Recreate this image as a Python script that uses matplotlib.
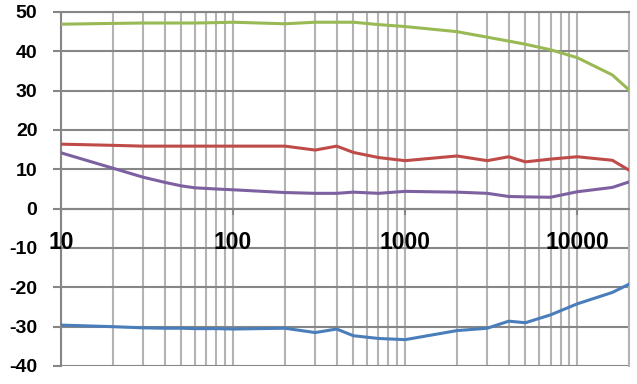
import matplotlib
matplotlib.use('Agg')
import matplotlib.pyplot as plt
import numpy as np
from matplotlib.ticker import LogLocator, FixedLocator, NullFormatter

plt.rcParams['font.family'] = 'Liberation Sans'
plt.rcParams['font.weight'] = 'bold'
plt.rcParams['axes.unicode_minus'] = False

# frequencies (log x) and the four series
freq = [10, 20, 30, 40, 50, 60, 80, 100, 200, 300, 400, 500, 700,
        1000, 2000, 3000, 4000, 5000, 7000, 10000, 16000, 20000]
green = [46.9, 47.1, 47.2, 47.2, 47.2, 47.2, 47.3, 47.4, 47.0, 47.4, 47.4, 47.4, 46.8,
         46.3, 45.0, 43.6, 42.6, 41.8, 40.4, 38.4, 34.0, 30.2]
red = [16.4, 16.1, 15.9, 15.9, 15.9, 15.9, 15.9, 15.9, 15.9, 14.9, 15.9, 14.3, 13.0,
       12.2, 13.4, 12.2, 13.2, 11.9, 12.6, 13.2, 12.3, 9.8]
purple = [14.2, 10.3, 8.0, 6.7, 5.8, 5.3, 5.0, 4.8, 4.1, 3.9, 3.9, 4.2, 3.9,
          4.4, 4.2, 3.9, 3.1, 3.0, 2.9, 4.3, 5.4, 6.8]
blue = [-29.6, -30.0, -30.3, -30.4, -30.4, -30.5, -30.5, -30.6, -30.4, -31.5, -30.6, -32.3, -33.0,
        -33.3, -31.0, -30.4, -28.6, -29.0, -27.0, -24.2, -21.3, -19.2]

xticks = [10, 100, 1000, 10000]
yticks = [-40, -30, -20, -10, 0, 10, 20, 30, 40, 50]

darkgrey = '#868686'
lightgrey = '#b3b3b3'

fig = plt.figure(figsize=(6.37, 3.84), dpi=100)
ax = fig.add_axes([61 / 637, 18 / 384, 568 / 637, 354 / 384])

ax.plot(freq, green, color='#98B954', lw=2.2, zorder=5)
ax.plot(freq, red, color='#BE4B48', lw=2.2, zorder=5)
ax.plot(freq, purple, color='#7D60A0', lw=2.2, zorder=5)
ax.plot(freq, blue, color='#4A7EBB', lw=2.2, zorder=5)

ax.set_xscale('log')
ax.set_xlim(10, 20000)
ax.set_ylim(-40, 50)

ax.xaxis.set_major_locator(FixedLocator(xticks))
ax.xaxis.set_minor_locator(LogLocator(base=10, subs=np.arange(2, 10), numticks=20))
ax.xaxis.set_minor_formatter(NullFormatter())
ax.set_xticklabels([])
ax.set_yticks(yticks)
ax.set_yticklabels([str(v) for v in yticks])

ax.grid(which='both', axis='x', color=lightgrey, lw=1.5)
ax.grid(which='major', axis='y', color=darkgrey, lw=1.5)
ax.set_axisbelow(True)

# x labels sit under the y=0 axis line, drawn on top of the grid
for v in xticks:
    ax.text(v, -8.7, str(v), ha='center', va='center', fontsize=16.5,
            fontweight='bold', color='black', zorder=10, clip_on=False)

ax.spines['bottom'].set_position(('data', 0))
ax.spines['bottom'].set_color(darkgrey)
ax.spines['bottom'].set_linewidth(1.5)
ax.spines['left'].set_color(darkgrey)
ax.spines['left'].set_linewidth(1.5)
ax.spines['top'].set_color(darkgrey)
ax.spines['top'].set_linewidth(1.5)
ax.spines['right'].set_color(lightgrey)
ax.spines['right'].set_linewidth(1.5)

ax.tick_params(axis='x', which='major', direction='out', length=4, width=1.5, color=darkgrey)
ax.tick_params(axis='x', which='minor', length=0)
ax.tick_params(axis='y', which='major', direction='out', length=6, width=1.5,
               color=darkgrey, pad=11, labelsize=14, labelcolor='black')

fig.savefig('out.png', dpi=100)
